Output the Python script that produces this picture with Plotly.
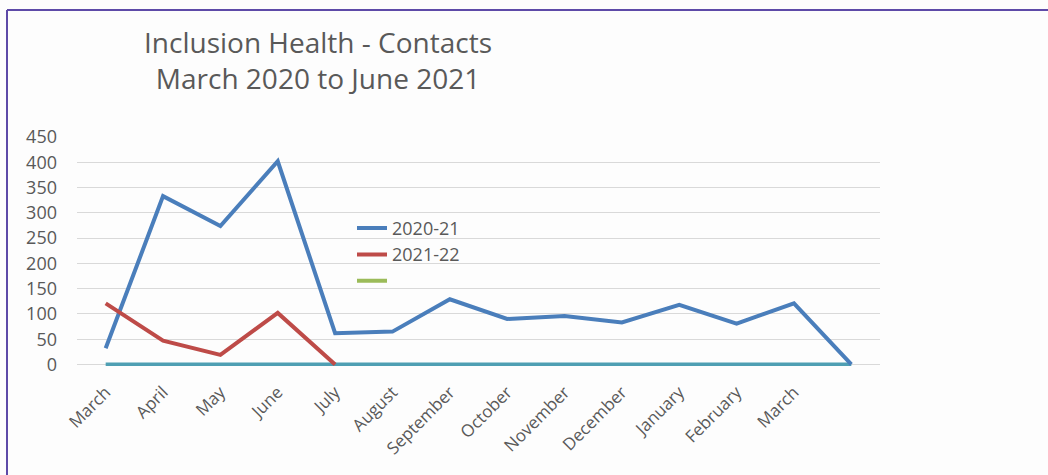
import plotly.graph_objects as go

months = ["March", "April", "May", "June", "July", "August", "September",
          "October", "November", "December", "January", "February", "March", ""]
series_2020_21 = [32, 333, 274, 402, 62, 65, 129, 90, 96, 83, 118, 81, 121, 0]
series_2021_22 = [121, 47, 19, 102, 0]
series_zero = [0] * 14
y_ticks = [0, 50, 100, 150, 200, 250, 300, 350, 400, 450]

idx = list(range(len(months)))
FONT = "'Open Sans', Lato, sans-serif"
GREY = "#595959"

# pixel geometry of the plot area
PL, PR, PT = 77, 880, 137.3
Y0PX = 364.5
PX_PER_UNIT = (Y0PX - PT) / 450.0
YMIN = -3
PB = Y0PX - YMIN * PX_PER_UNIT
PH = PB - PT
PW = PR - PL


def px_to_paper_x(px):
    return (px - PL) / PW


def px_to_paper_y(py):
    return (PB - py) / PH


fig = go.Figure()
fig.add_trace(go.Scatter(x=idx, y=series_zero, mode="lines", showlegend=False,
                         line=dict(color="#4f9fb3", width=4)))
fig.add_trace(go.Scatter(x=idx, y=series_2020_21, mode="lines", name="2020-21",
                         line=dict(color="#4a7ebb", width=4)))
fig.add_trace(go.Scatter(x=idx[:len(series_2021_22)], y=series_2021_22, mode="lines",
                         name="2021-22", line=dict(color="#be4b48", width=4)))
fig.add_trace(go.Scatter(x=[None], y=[None], mode="lines", name=" ",
                         line=dict(color="#9bbb59", width=4)))

fig.update_layout(
    width=1048, height=475,
    margin=dict(l=PL, r=1048 - PR, t=PT, b=475 - PB),
    paper_bgcolor="#fdfdfd", plot_bgcolor="#fdfdfd",
    font=dict(family=FONT, color=GREY, size=16),
    legend=dict(x=px_to_paper_x(352), y=px_to_paper_y(210), xanchor="left", yanchor="top",
                bgcolor="rgba(0,0,0,0)", font=dict(size=18, color=GREY),
                traceorder="normal", tracegroupgap=0, itemwidth=30),
    xaxis=dict(range=[-0.5, 13.5], tickmode="array", tickvals=idx, ticktext=months,
               tickangle=-45, showgrid=False, zeroline=False, showline=False,
               tickfont=dict(size=17, color=GREY), ticklabelstandoff=12),
    yaxis=dict(range=[YMIN, 450], tickmode="array", tickvals=y_ticks,
               showgrid=True, gridcolor="#d9d9d9", gridwidth=1, zeroline=False,
               showline=False, tickfont=dict(size=18, color=GREY),
               ticklabelstandoff=19),
    annotations=[dict(text="Inclusion Health - Contacts<br>March 2020 to June 2021",
                      xref="paper", yref="paper", x=px_to_paper_x(318),
                      y=px_to_paper_y(60),
                      xanchor="center", yanchor="middle", showarrow=False,
                      font=dict(size=28, color=GREY, family=FONT))],
    shapes=[
        dict(type="line", xref="paper", yref="paper", x0=px_to_paper_x(7), x1=1.3,
             y0=px_to_paper_y(10.5), y1=px_to_paper_y(10.5),
             line=dict(color="#5e4aa8", width=2)),
        dict(type="line", xref="paper", yref="paper", x0=px_to_paper_x(7),
             x1=px_to_paper_x(7), y0=px_to_paper_y(10.5), y1=-0.6,
             line=dict(color="#5e4aa8", width=2)),
    ],
)

fig.write_html("out.html", config={"displayModeBar": False},
               post_script="document.body.style.margin='0';document.body.style.overflow='hidden';")
